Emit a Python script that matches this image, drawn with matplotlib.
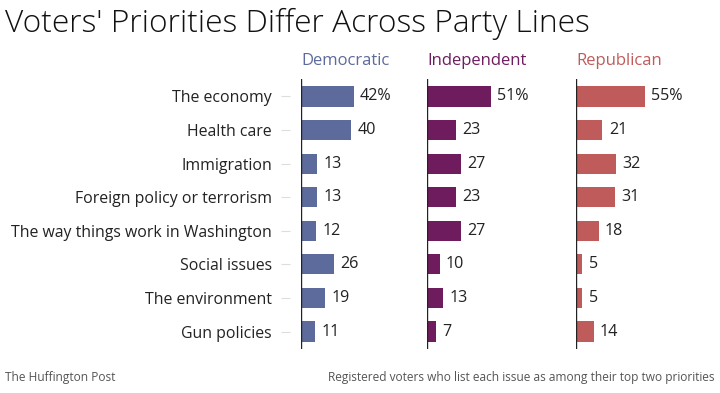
import matplotlib.pyplot as plt

plt.rcParams['font.family'] = ['Open Sans', 'DejaVu Sans']

issues = ['The economy', 'Health care', 'Immigration', 'Foreign policy or terrorism',
          'The way things work in Washington', 'Social issues', 'The environment', 'Gun policies']
parties = ['Democratic', 'Independent', 'Republican']
dem = [42, 40, 13, 13, 12, 26, 19, 11]
ind = [51, 23, 27, 23, 27, 10, 13, 7]
rep = [55, 21, 32, 31, 18, 5, 5, 14]
colors = ['#5c6b9b', '#6e1c5e', '#c05b5b']

W, H = 720, 393
fig = plt.figure(figsize=(W / 100, H / 100), dpi=100)

def px_axes(x0, y0, w, h):
    # pixel box (top-left origin) -> figure axes
    return fig.add_axes([x0 / W, 1 - (y0 + h) / H, w / W, h / H])

lefts = [301, 427, 576]
top, height = 79, 270
scale = 1.25  # pixels per percentage point
ypos = list(range(len(issues)))

for i, (vals, party, col, x0) in enumerate(zip([dem, ind, rep], parties, colors, lefts)):
    w = 120
    ax = px_axes(x0, top, w, height)
    ax.barh(ypos, vals, height=0.6, color=col)
    ax.set_xlim(0, w / scale)
    ax.set_ylim(7.52, -0.52)
    for y, v in zip(ypos, vals):
        lab = f'{v}%' if y == 0 else str(v)
        ax.text(v + 5.2, y, lab, va='center', ha='left', fontsize=11.6, color='#222222')
    ax.axvline(0, color='#222222', lw=1)
    for s in ax.spines.values():
        s.set_visible(False)
    ax.set_xticks([])
    ax.patch.set_alpha(0)
    if i == 0:
        ax.spines['left'].set_position(('outward', 8))
        ax.set_yticks(ypos)
        ax.set_yticklabels(issues, fontsize=11.4, color='#222222')
        ax.tick_params(axis='y', length=6.5, width=0.8, color='#dddddd', pad=6.5)
    else:
        ax.set_yticks([])
    fig.text(x0 / W, 1 - 61 / H, party, color=col, fontsize=12, ha='left', va='center')

fig.text(5 / W, 1 - 24 / H, "Voters' Priorities Differ Across Party Lines",
         fontsize=22.8, ha='left', va='center', color='#111111', fontweight='light')
fig.text(5 / W, 1 - 378 / H, 'The Huffington Post', fontsize=8.6, color='#555555',
         ha='left', va='center')
fig.text(714 / W, 1 - 378 / H, 'Registered voters who list each issue as among their top two priorities',
         fontsize=8.6, color='#555555', ha='right', va='center')

fig.savefig('out.png', dpi=100, facecolor='white')
